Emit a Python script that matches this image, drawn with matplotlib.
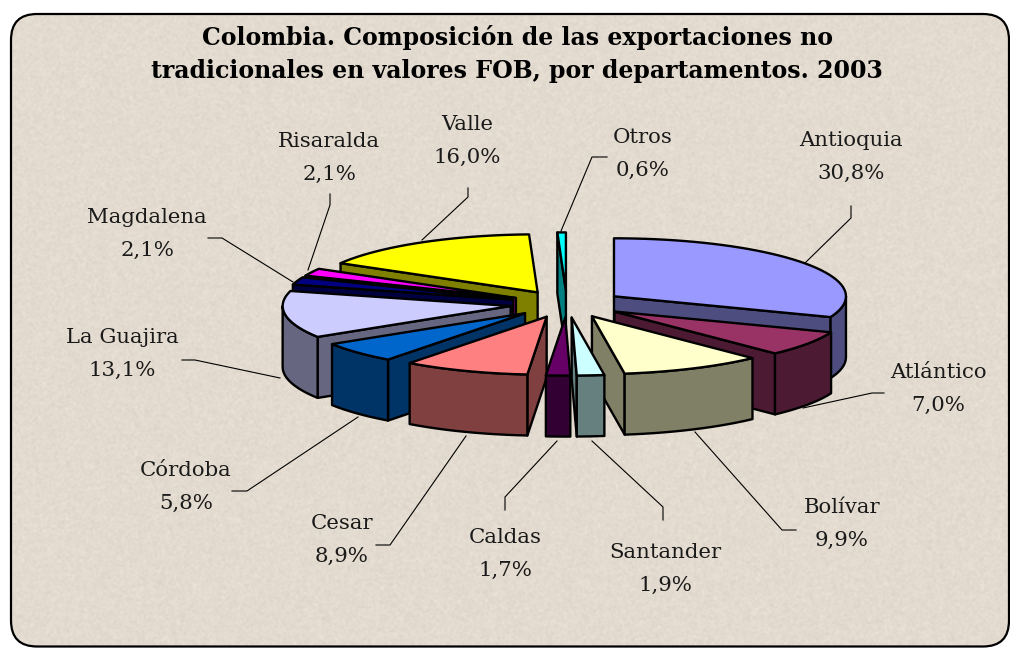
import numpy as np
import matplotlib
matplotlib.use("Agg")
import matplotlib.pyplot as plt
from matplotlib.patches import Polygon, FancyBboxPatch

# ---- data ----
departments = ["Antioquia", "Atlántico", "Bolívar", "Santander", "Caldas", "Cesar",
               "Córdoba", "La Guajira", "Magdalena", "Risaralda", "Valle", "Otros"]
shares = [30.8, 7.0, 9.9, 1.9, 1.7, 8.9, 5.8, 13.1, 2.1, 2.1, 16.0, 0.6]
title_lines = ["Colombia. Composición de las exportaciones no",
               "tradicionales en valores FOB, por departamentos. 2003"]

# ---- style ----
top_colors = ["#9999FF", "#993366", "#FFFFCC", "#CCFFFF", "#660066", "#FF8080",
              "#0066CC", "#CCCCFF", "#000080", "#FF00FF", "#FFFF00", "#00FFFF"]
side_colors = ["#4D4D80", "#4D1A33", "#808066", "#668080", "#330033", "#804040",
               "#003366", "#666680", "#000040", "#800080", "#808000", "#008080"]
draw_order = ["Antioquia", "Valle", "Risaralda", "Magdalena", "La Guajira", "Otros",
              "Atlántico", "Córdoba", "Cesar", "Bolívar", "Caldas", "Santander"]
label_pos = {"Antioquia": (851, 157), "Atlántico": (938, 389), "Bolívar": (842, 524),
             "Santander": (665, 569), "Caldas": (505, 554), "Cesar": (342, 540),
             "Córdoba": (186, 487), "La Guajira": (122, 354), "Magdalena": (147, 234),
             "Risaralda": (329, 158), "Valle": (467, 141), "Otros": (643, 154)}
leaders = {"Antioquia": [(805, 263), (851, 218), (851, 206)],
           "Atlántico": [(803, 408), (872, 393), (884, 393)],
           "Bolívar": [(695, 432), (782, 530), (796, 530)],
           "Santander": [(592, 441), (663, 507), (663, 520)],
           "Caldas": [(557, 441), (505, 497), (505, 510)],
           "Cesar": [(466, 436), (390, 545), (376, 545)],
           "Córdoba": [(358, 417), (247, 491), (232, 491)],
           "La Guajira": [(280, 378), (195, 360), (182, 360)],
           "Magdalena": [(293, 282), (222, 238), (208, 238)],
           "Risaralda": [(308, 270), (330, 205), (330, 194)],
           "Valle": [(422, 240), (468, 197), (468, 188)],
           "Otros": [(561, 231), (592, 157), (607, 157)]}
CX, CY, A_RIGHT, A_LEFT, B, DEPTH, EX, EY = 567, 304, 232, 228, 58, 61, 57, 13.6
LW = 1.7
SERIF = "DejaVu Serif"

W, H = 1010, 648
fig = plt.figure(figsize=(W / 100, H / 100), dpi=100, facecolor="white")
ax = fig.add_axes([0, 0, 1, 1])
ax.set_xlim(0, W)
ax.set_ylim(H, 0)
ax.axis("off")

# ---- paper texture (deterministic) ----
yy, xx = np.mgrid[0:H, 0:W]
h = np.sin(xx * 12.9898 + yy * 78.233) * 43758.5453
h = h - np.floor(h)
k = np.ones(3) / 3
blur = np.apply_along_axis(lambda r: np.convolve(r, k, mode="same"), 1, h)
blur = np.apply_along_axis(lambda c: np.convolve(c, k, mode="same"), 0, blur)
tex = (blur - blur.mean()) / blur.std()
rgb = np.array([227, 219, 207])[None, None, :] / 255 + tex[..., None] * 0.009
im = ax.imshow(np.clip(rgb, 0, 1), extent=(0, W, H, 0), interpolation="bilinear",
               aspect="auto", zorder=0)
ax.set_xlim(0, W)
ax.set_ylim(H, 0)
box = FancyBboxPatch((11, 14), 998, 632.5, boxstyle="round,pad=0,rounding_size=26",
                     fc="none", ec="black", lw=1.6, zorder=1)
ax.add_patch(box)
im.set_clip_path(box)

# ---- exploded 3D pie ----
total = sum(shares)
bounds = np.cumsum([0] + shares) / total * 2 * np.pi


def pt(th):
    s = np.sin(th)
    return np.array([(A_RIGHT if s >= 0 else A_LEFT) * s, -B * np.cos(th)])


def arc(t0, t1):
    n = max(2, int(abs(t1 - t0) / np.radians(2.5)) + 1)
    return [pt(t) for t in np.linspace(t0, t1, n)]


z = 5
for name in draw_order:
    i = departments.index(name)
    t0, t1 = bounds[i], bounds[i + 1]
    mid = (t0 + t1) / 2
    tip = np.array([CX + EX * np.sin(mid), CY - EY * np.cos(mid)])
    down = np.array([0, DEPTH])
    style = dict(ec="black", lw=LW, joinstyle="round")
    inner = tip + pt(mid)
    for t in (t0, t1):
        p = tip + pt(t)
        # a radial wall shows only if the wedge's top lies above its edge on screen
        if abs(p[0] - tip[0]) > 1e-6:
            edge_y = tip[1] + (inner[0] - tip[0]) * (p[1] - tip[1]) / (p[0] - tip[0])
            visible = inner[1] < edge_y
        else:
            visible = False
        if visible:
            ax.add_patch(Polygon([tip, p, p + down, tip + down], fc=side_colors[i], zorder=z, **style))
            z += 1
    a0, a1 = max(t0, np.pi / 2), min(t1, 1.5 * np.pi)
    if a1 > a0:
        outer = [tip + q for q in arc(a0, a1)]
        ax.add_patch(Polygon(outer + [q + down for q in outer[::-1]], fc=side_colors[i], zorder=z, **style))
        z += 1
    ax.add_patch(Polygon([tip] + [tip + q for q in arc(t0, t1)], fc=top_colors[i], zorder=z, **style))
    z += 1

# ---- leaders and labels ----
for name, v in zip(departments, shares):
    xs, ys = zip(*leaders[name])
    ax.plot(xs, ys, color="black", lw=0.8, zorder=3)
    x, y = label_pos[name]
    ax.text(x, y, f"{name}\n{v:.1f}%".replace(".", ","), ha="center", va="center",
            fontsize=15.3, family=SERIF, linespacing=1.98, zorder=200, color="#1a1a1a")

ax.text(517, 38, title_lines[0], ha="center", va="center", fontsize=17, family=SERIF,
        weight="bold", zorder=200)
ax.text(517, 71, title_lines[1], ha="center", va="center", fontsize=17, family=SERIF,
        weight="bold", zorder=200)

fig.savefig("out.png", dpi=100, facecolor="white")
